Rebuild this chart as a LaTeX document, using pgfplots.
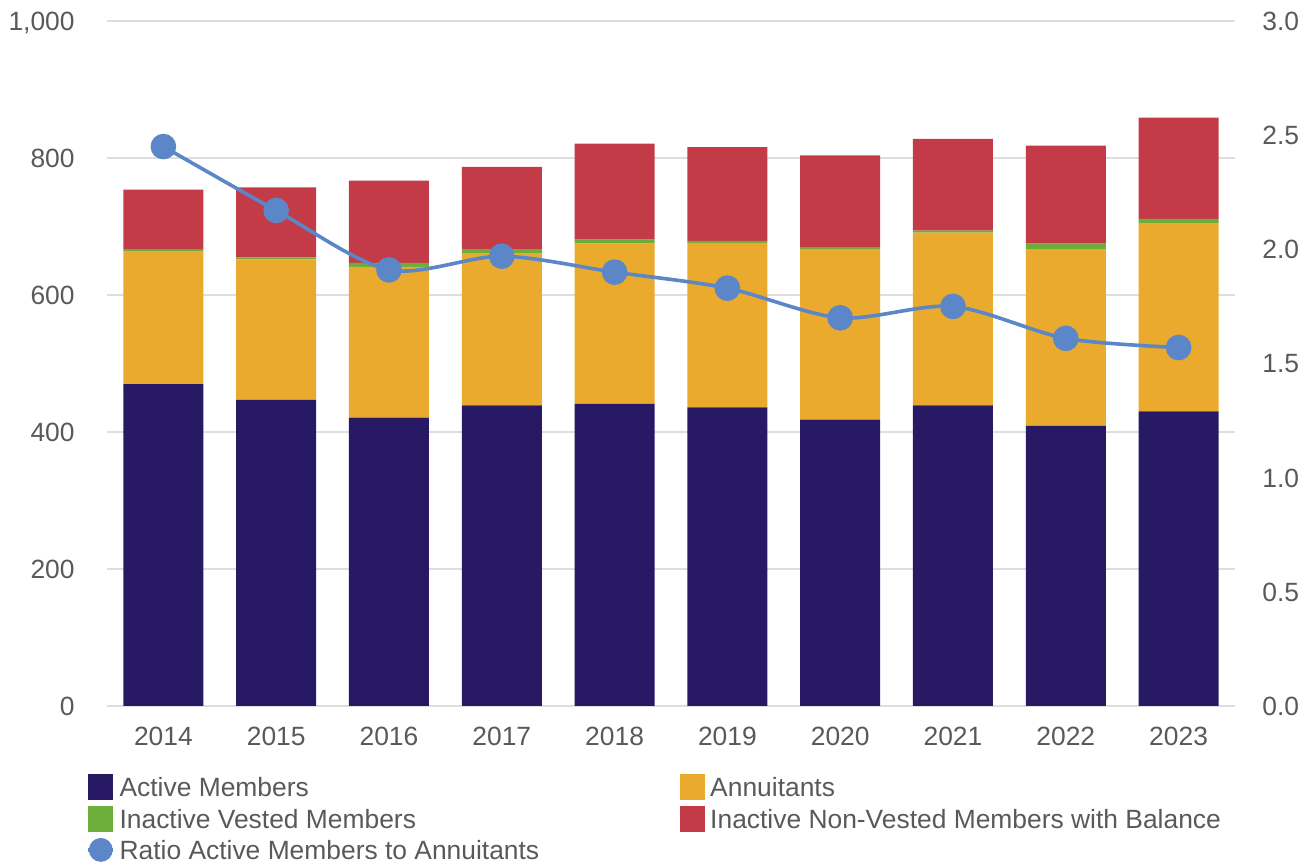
\documentclass[border=0pt]{standalone}
\usepackage{pgfplots}
\usepackage{pgfplotstable}
\pgfplotsset{compat=1.18}
\usepackage{fontspec}
\setmainfont{Liberation Sans}
\definecolor{cActive}{RGB}{39,25,100}
\definecolor{cAnn}{RGB}{233,170,46}
\definecolor{cVest}{RGB}{109,174,58}
\definecolor{cNon}{RGB}{196,59,72}
\definecolor{cRatio}{RGB}{91,134,200}
\definecolor{cText}{RGB}{89,89,89}
\definecolor{cGrid}{RGB}{222,222,222}
\pgfplotstableread{
x active ann vest non ratio
0 470 194 3 87 2.45
1 447 205 3 102 2.17
2 421 220 6 120 1.91
3 439 222 6 120 1.97
4 441 234 6 140 1.90
5 436 240 3 137 1.83
6 418 249 3 134 1.70
7 439 252 3 134 1.75
8 409 258 8 143 1.61
9 430 275 6 148 1.57
}\data
\pgfplotsset{
  barlegend/.style={legend image code/.code={\fill[##1,draw=none] (0pt,-6.5pt) rectangle (12.5pt,6.5pt);}},
  base/.style={
    scale only axis, width=564pt, height=342.5pt,
    xmin=-0.5, xmax=9.5,
    axis line style={draw=none},
    major tick length=0pt,
    tick label style={font=\fontsize{13.2}{15.8}\selectfont, text=cText, inner sep=0pt, text height=9.5pt, text depth=0pt},
    /pgf/number format/assume math mode=true,
  },
}
\begin{document}
\begin{tikzpicture}
\begin{axis}[base,
  ybar stacked, bar width=40pt,
  ymin=0, ymax=1000, ytick={0,200,...,1000},
  ymajorgrids, grid style={cGrid, line width=1pt},
  yticklabel style={anchor=east, xshift=-16pt, /pgf/number format/.cd, 1000 sep={,}},
  xtick={0,...,9}, xticklabels={2014,2015,2016,2017,2018,2019,2020,2021,2022,2023},
  xticklabel style={anchor=north, yshift=-10pt},
  legend columns=2,
  legend cell align=left,
  legend style={at={(0,0)}, anchor=north west, xshift=-10.5pt, yshift=-34pt,
    draw=none, fill=none, inner sep=0pt, outer sep=0pt,
    font=\fontsize{13.2}{15.8}\selectfont, text=cText,
    column sep=2.5pt, row sep=3pt,
    nodes={inner sep=0pt, text height=9.5pt, text depth=0pt},
    /tikz/column 2/.append style={column sep=70.5pt}},
]
\addplot[fill=cActive, draw=none, barlegend] table[x=x,y=active]{\data};
\addlegendentry{Active Members}
\addplot[fill=cAnn, draw=none, barlegend] table[x=x,y=ann]{\data};
\addlegendentry{Annuitants}
\addplot[fill=cVest, draw=none, barlegend] table[x=x,y=vest]{\data};
\addlegendentry{Inactive Vested Members}
\addplot[fill=cNon, draw=none, barlegend] table[x=x,y=non]{\data};
\addlegendentry{Inactive Non-Vested Members with Balance}
\addlegendimage{legend image code/.code={\draw[cRatio, line width=1.8pt] (0pt,0pt) -- (12.5pt,0pt); \fill[cRatio] (6.5pt,0pt) circle (5.75pt);}}
\addlegendentry{Ratio Active Members to Annuitants}
\end{axis}
\begin{axis}[base,
  ymin=0, ymax=3, ytick={0,0.5,...,3},
  xtick=\empty,
  yticklabel pos=right,
  yticklabel style={anchor=west, xshift=13.5pt, /pgf/number format/.cd, fixed, fixed zerofill, precision=1},
]
\addplot[cRatio, line width=1.8pt, smooth, tension=0.5, mark=*, mark size=5.5pt, mark options={fill=cRatio, draw=none}] table[x=x,y=ratio]{\data};
\end{axis}
\pgfresetboundingbox
\path[use as bounding box] (-53.5pt,-80.5pt) rectangle (603.5pt,353pt);
\end{tikzpicture}
\end{document}
